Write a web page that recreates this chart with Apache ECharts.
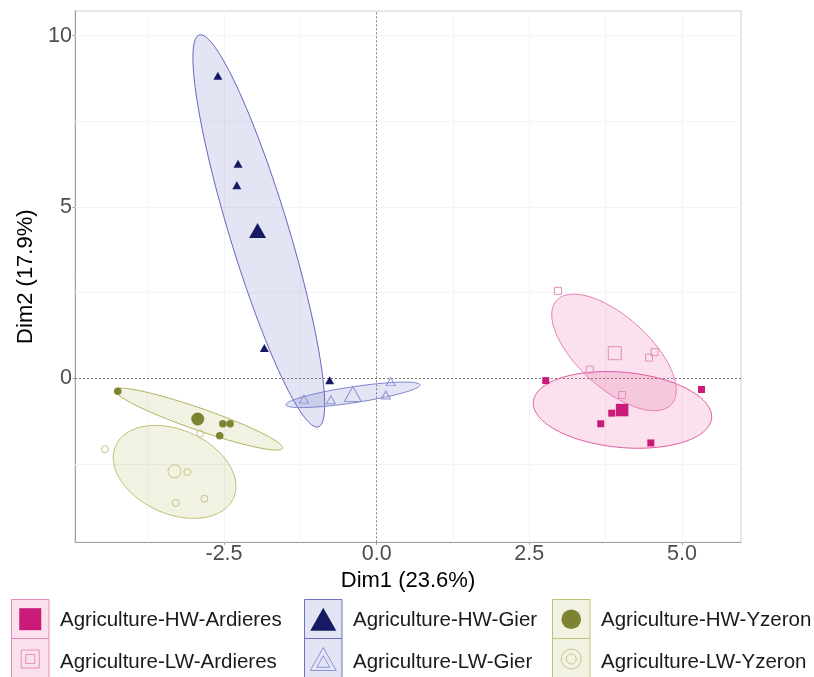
<!DOCTYPE html>
<html><head><meta charset="utf-8">
<script src="https://cdn.jsdelivr.net/npm/echarts@6/dist/echarts.min.js"></script>
<style>html,body{margin:0;padding:0;background:#fff}#c{width:814px;height:677px}</style>
</head><body><div id="c"></div>
<script>
// ---------------- data ----------------
const groupNames = ['Agriculture-HW-Ardieres','Agriculture-LW-Ardieres','Agriculture-HW-Gier','Agriculture-LW-Gier','Agriculture-HW-Yzeron','Agriculture-LW-Yzeron'];
const hwArdieres = [[2.77,-0.07],[3.85,-1.02],[3.67,-1.33],[4.49,-1.89],[5.32,-0.33]];
const lwArdieres = [[2.97,2.55],[4.46,0.60],[4.55,0.76],[3.49,0.25],[4.02,-0.49]];
const hwGier = [[-2.60,8.83],[-2.27,6.26],[-2.29,5.63],[-1.84,0.88],[-0.77,-0.06]];
const lwGier = [[-1.19,-0.61],[-0.75,-0.63],[0.15,-0.49],[0.23,-0.10]];
const hwYzeron = [[-4.24,-0.38],[-2.52,-1.33],[-2.40,-1.33],[-2.57,-1.68]];
const lwYzeron = [[-2.89,-1.61],[-4.45,-2.07],[-3.10,-2.74],[-3.29,-3.64],[-2.82,-3.52]];
const groupMeans = [[4.02,-0.93],[3.90,0.73],[-1.95,4.31],[-0.39,-0.46],[-2.93,-1.19],[-3.31,-2.72]];
// concentration ellipses: [centerX, centerY, axis1X, axis1Y, axis2X, axis2Y] (data units)
const ellipseParams = [
  [4.026,-0.925, 1.460,-0.241, -0.057,-1.093],
  [3.887, 0.753, 0.941,-1.515, -0.392,-0.773],
  [-1.93, 4.30, -0.975, 5.721, 0.462, 0.255],
  [-0.388,-0.485, 1.097, 0.292, 0.019,-0.231],
  [-2.914,-1.194, 1.373,-0.852, -0.059,-0.303],
  [-3.309,-2.735, 0.965,-0.765, -0.280,-1.121]
];
const xTicks = [-2.5, 0, 2.5, 5];
const yTicks = [0, 5, 10];
const xMinor = [-3.75, -1.25, 1.25, 3.75];
const yMinor = [-2.5, 2.5, 7.5];
const xTitle = 'Dim1 (23.6%)';
const yTitle = 'Dim2 (17.9%)';

// ---------------- styles ----------------
const FONT = 'Liberation Sans, Arial, Helvetica, sans-serif';
const groupPoints = [hwArdieres, lwArdieres, hwGier, lwGier, hwYzeron, lwYzeron];
const markerColor = ['#CB1B78','#E68DBA','#151A63','#8E92D8','#7D8331','#C3C68A'];
const filled = [true,false,true,false,true,false];
const symbolType = ['rect','rect','triangle','triangle','circle','circle'];
const pointSize = [[7,7],[7,7],[9,8],[9,8],[7.5,7.5],[7,7]];
const meanSize = [[12.5,12.5],[13,13],[17,15],[17,15],[13,13],[13,13]];
const ellipseFill = ['rgba(224,80,150,0.17)','rgba(224,80,150,0.17)','rgba(90,95,190,0.17)','rgba(90,95,190,0.17)','rgba(170,175,70,0.165)','rgba(170,175,70,0.165)'];
const ellipseStroke = ['#E05AA2','#E77DB5','#6266C0','#7C80CC','#B0B35C','#BDBF74'];
const boxStroke = ['#EA86BA','#6F73C6','#BFC276'];

const series = [];
// grid lines and zero lines
const gridLine = {color:'#F4F4F4', width:1, type:'solid'};
const zeroLine = {color:'#808080', width:1, type:[2,2]};
series.push({
  type:'line', data:[], silent:true,
  markLine:{
    silent:true, symbol:'none', z:1, animation:false, label:{show:false},
    emphasis:{disabled:true},
    data:[].concat(
      xMinor.concat(xTicks.filter(v=>v!==0)).map(v=>({xAxis:v, lineStyle:gridLine})),
      yMinor.concat(yTicks.filter(v=>v!==0)).map(v=>({yAxis:v, lineStyle:gridLine})),
      [{xAxis:0, lineStyle:zeroLine},{yAxis:0, lineStyle:zeroLine}]
    )
  }
});
// ellipses
series.push({
  type:'custom', z:2, silent:true,
  data: ellipseParams,
  encode:{x:0, y:1},
  renderItem:function(params, api){
    const cx=api.value(0), cy=api.value(1), ux=api.value(2), uy=api.value(3), vx=api.value(4), vy=api.value(5);
    const pts=[];
    const N=160;
    for(let i=0;i<N;i++){
      const t=i/N*2*Math.PI;
      pts.push(api.coord([cx+ux*Math.cos(t)+vx*Math.sin(t), cy+uy*Math.cos(t)+vy*Math.sin(t)]));
    }
    const k=params.dataIndex;
    return {type:'polygon', shape:{points:pts}, style:{fill:ellipseFill[k], stroke:ellipseStroke[k], lineWidth:1}};
  }
});
// points and means
groupPoints.forEach((pts,g)=>{
  const st = filled[g] ? {color:markerColor[g], borderWidth:0, opacity:1} : {color:'rgba(0,0,0,0)', borderColor:markerColor[g], borderWidth:1, opacity:1};
  series.push({type:'scatter', name:groupNames[g], z:3, data:pts, symbol:symbolType[g], symbolSize:pointSize[g], itemStyle:st, silent:true});
  series.push({type:'scatter', name:groupNames[g]+' mean', z:4, data:[groupMeans[g]], symbol:symbolType[g], symbolSize:meanSize[g], itemStyle:st, silent:true});
});

// legend boxes (graphic)
const boxX = [11.5, 304.5, 552.5];
const rowTop = [599.5, 638.5];
const keyY = [619.2, 659];
const textY = [620, 662];
const graphics = [];
function triPts(cx, cy, w, h){ return [[cx, cy-h/2],[cx+w/2, cy+h/2],[cx-w/2, cy+h/2]]; }
for(let c=0;c<3;c++){
  for(let r=0;r<2;r++){
    const g = 2*c+r;
    const bx = boxX[c];
    graphics.push({type:'rect', shape:{x:bx, y:rowTop[r], width:37.5, height:39}, style:{fill:ellipseFill[g], stroke:boxStroke[c], lineWidth:1}, z:10});
    const kx = bx+18.75, ky = keyY[r];
    const col = markerColor[g];
    if(filled[g]){
      const st = {fill:col};
      if(c===0) graphics.push({type:'rect', shape:{x:kx-11, y:ky-11, width:22, height:22}, style:st, z:11});
      if(c===1) graphics.push({type:'polygon', shape:{points:triPts(kx, ky, 26, 23)}, style:st, z:11});
      if(c===2) graphics.push({type:'circle', shape:{cx:kx, cy:ky, r:9.8}, style:st, z:11});
    } else {
      const st = {fill:'none', stroke:col, lineWidth:1};
      if(c===0){
        graphics.push({type:'rect', shape:{x:kx-9, y:ky-9, width:18, height:18}, style:st, z:11});
        graphics.push({type:'rect', shape:{x:kx-4.5, y:ky-4.5, width:9, height:9}, style:st, z:11});
      }
      if(c===1){
        graphics.push({type:'polygon', shape:{points:triPts(kx, ky, 26, 23)}, style:st, z:11});
        graphics.push({type:'polygon', shape:{points:triPts(kx, ky+2.5, 13, 11.5)}, style:st, z:11});
      }
      if(c===2){
        graphics.push({type:'circle', shape:{cx:kx, cy:ky, r:10}, style:st, z:11});
        graphics.push({type:'circle', shape:{cx:kx, cy:ky, r:5}, style:st, z:11});
      }
    }
    graphics.push({type:'text', x:bx+48.5, y:textY[r], style:{text:groupNames[g], fontSize:20.5, fontFamily:FONT, fill:'#1a1a1a', align:'left', verticalAlign:'middle'}, z:11});
  }
}

const option = {
  animation:false,
  backgroundColor:'#ffffff',
  grid:{left:75, right:73, top:11, bottom:134.7, show:true, borderColor:'#CFCFCF', borderWidth:1, backgroundColor:'#ffffff'},
  xAxis:{
    type:'value', min:-4.94, max:5.967,
    name:xTitle, nameLocation:'middle', nameGap:24,
    nameTextStyle:{fontSize:22, fontFamily:FONT, color:'#000'},
    axisLine:{show:true, onZero:false, lineStyle:{color:'#A0A0A0', width:1}},
    axisTick:{show:true, length:2.5, lineStyle:{color:'#A0A0A0'}, customValues:xTicks},
    axisLabel:{fontSize:21.5, fontFamily:FONT, color:'#4D4D4D', margin:1, customValues:xTicks, formatter:v=>Number(v).toFixed(1)},
    splitLine:{show:false}
  },
  yAxis:{
    type:'value', min:-4.79, max:10.72,
    name:yTitle, nameLocation:'middle', nameGap:29, nameRotate:90,
    nameTextStyle:{fontSize:22, fontFamily:FONT, color:'#000'},
    axisLine:{show:true, onZero:false, lineStyle:{color:'#A0A0A0', width:1}},
    axisTick:{show:true, length:2.5, lineStyle:{color:'#A0A0A0'}, customValues:yTicks},
    axisLabel:{fontSize:21.5, fontFamily:FONT, color:'#4D4D4D', margin:3, customValues:yTicks, formatter:v=>String(Math.round(v))},
    splitLine:{show:false}
  },
  graphic:{elements:graphics},
  series:series
};
const chart = echarts.init(document.getElementById('c'));
chart.setOption(option);
</script>
</body></html>
